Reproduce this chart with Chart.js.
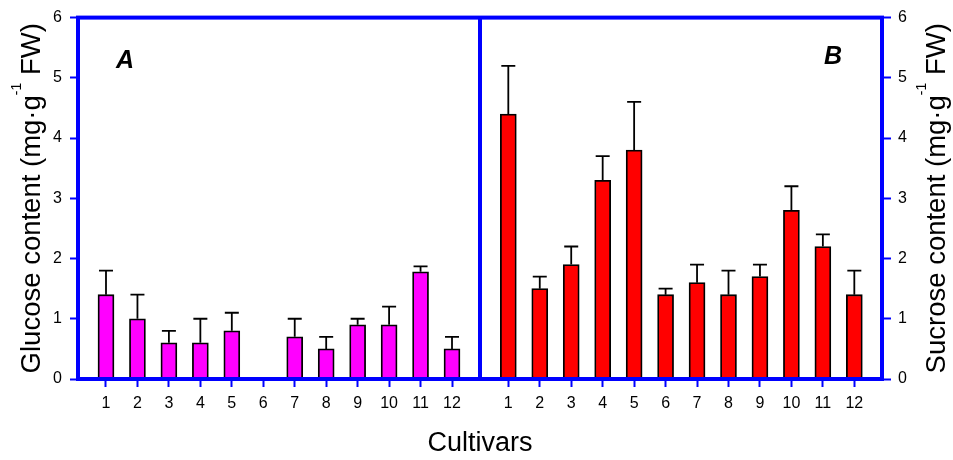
<!DOCTYPE html>
<html>
<head>
<meta charset="utf-8">
<script src="https://cdn.jsdelivr.net/npm/chart.js@4.4.0/dist/chart.umd.min.js"></script>
<style>
  html, body { margin: 0; padding: 0; background: #ffffff; }
  #wrap { position: relative; width: 953px; height: 460px; }
</style>
</head>
<body>
<div id="wrap"><canvas id="c" width="953" height="460"></canvas></div>
<script>
// ---- data ----
const cultivars = ['1','2','3','4','5','6','7','8','9','10','11','12'];
const glucose    = [1.40, 1.00, 0.60, 0.60, 0.80, 0.00, 0.70, 0.50, 0.90, 0.90, 1.78, 0.50];
const glucoseErr = [0.40, 0.40, 0.20, 0.40, 0.30, 0.00, 0.30, 0.20, 0.10, 0.30, 0.09, 0.20];
const sucrose    = [4.40, 1.50, 1.90, 3.30, 3.80, 1.40, 1.60, 1.40, 1.70, 2.80, 2.20, 1.40];
const sucroseErr = [0.80, 0.20, 0.30, 0.40, 0.80, 0.10, 0.30, 0.40, 0.20, 0.40, 0.20, 0.40];
const yTickValues = [0, 1, 2, 3, 4, 5, 6];
const panelLabels = ['A', 'B'];
const xTitle = 'Cultivars';
const glucoseTitle = ['Glucose content (mg\u00B7g', '-1', ' FW)'];
const sucroseTitle = ['Sucrose content (mg\u00B7g', '-1', ' FW)'];

// ---- layout constants (not data) ----
const FONT = '"Liberation Sans", Arial, Helvetica, sans-serif';
const BLUE = '#0000FF';
const panelBOffset = 12.79;   // x-offset of panel B categories on the shared axis
const dividerX = 12.89;       // position of the panel divider on the shared axis
const xMin = 0.11, xMax = 25.67;

const posA = cultivars.map((c, i) => i + 1);
const posB = cultivars.map((c, i) => i + 1 + panelBOffset);
const tickPositions = posA.concat(posB);
const tickLabels = cultivars.concat(cultivars);

const glucoseData = glucose.map((v, i) => ({ x: posA[i], y: v }));
const sucroseData = sucrose.map((v, i) => ({ x: posB[i], y: v }));

const decorPlugin = {
  id: 'decor',
  afterDatasetsDraw(chart) {
    const { ctx, chartArea: a, scales } = chart;
    ctx.save();
    // error bars (upper only, with cap)
    ctx.strokeStyle = '#000000';
    ctx.lineWidth = 1.8;
    chart.data.datasets.forEach((ds) => {
      const yS = scales[ds.yAxisID];
      ds.data.forEach((p, i) => {
        const e = ds.errors[i];
        if (!e) return;
        const x = scales.x.getPixelForValue(p.x);
        const y0 = yS.getPixelForValue(p.y);
        const y1 = yS.getPixelForValue(p.y + e);
        ctx.beginPath();
        ctx.moveTo(x, y0); ctx.lineTo(x, y1);
        ctx.moveTo(x - 7, y1); ctx.lineTo(x + 7, y1);
        ctx.stroke();
      });
    });
    // blue frame and divider
    ctx.strokeStyle = BLUE;
    ctx.lineWidth = 4;
    ctx.strokeRect(a.left, a.top, a.right - a.left, a.bottom - a.top);
    const xd = scales.x.getPixelForValue(dividerX);
    ctx.beginPath();
    ctx.moveTo(xd, a.top); ctx.lineTo(xd, a.bottom);
    ctx.stroke();
    // panel labels
    ctx.fillStyle = '#000000';
    ctx.font = 'italic bold 25px ' + FONT;
    ctx.textAlign = 'center';
    ctx.textBaseline = 'alphabetic';
    ctx.fillText(panelLabels[0], 125, 67.5);
    ctx.fillText(panelLabels[1], 833, 64);
    ctx.restore();
  },
  afterDraw(chart) {
    const { ctx, chartArea: a } = chart;
    const cy = (a.top + a.bottom) / 2;
    function drawTitle(parts, baseX) {
      ctx.save();
      ctx.fillStyle = '#000000';
      ctx.textBaseline = 'alphabetic';
      ctx.textAlign = 'left';
      const mainFont = '27.5px ' + FONT;
      const supFont = '14px ' + FONT;
      ctx.font = mainFont; const w0 = ctx.measureText(parts[0]).width;
      ctx.font = supFont;  const w1 = ctx.measureText(parts[1]).width;
      ctx.font = mainFont; const w2 = ctx.measureText(parts[2]).width;
      const total = w0 + w1 + w2;
      ctx.translate(baseX, cy);
      ctx.rotate(-Math.PI / 2);
      let x = -total / 2;
      ctx.font = mainFont; ctx.fillText(parts[0], x, 0); x += w0;
      ctx.font = supFont;  ctx.fillText(parts[1], x, -19); x += w1;
      ctx.font = mainFont; ctx.fillText(parts[2], x, 0);
      ctx.restore();
    }
    drawTitle(glucoseTitle, 40);
    drawTitle(sucroseTitle, 945);
  }
};

new Chart(document.getElementById('c'), {
  type: 'bar',
  data: {
    datasets: [
      {
        label: 'Glucose',
        data: glucoseData,
        errors: glucoseErr,
        yAxisID: 'y',
        backgroundColor: '#FF00FF',
        borderColor: '#000000',
        borderWidth: 1.8,
        borderSkipped: false,
        barThickness: 16,
        grouped: false
      },
      {
        label: 'Sucrose',
        data: sucroseData,
        errors: sucroseErr,
        yAxisID: 'y2',
        backgroundColor: '#FF0000',
        borderColor: '#000000',
        borderWidth: 1.8,
        borderSkipped: false,
        barThickness: 16,
        grouped: false
      }
    ]
  },
  options: {
    responsive: false,
    devicePixelRatio: 1,
    animation: false,
    layout: { padding: { top: 15, left: 0, right: 0, bottom: 0 } },
    plugins: { legend: { display: false }, tooltip: { enabled: false } },
    scales: {
      x: {
        type: 'linear',
        min: xMin,
        max: xMax,
        offset: false,
        afterBuildTicks: (s) => { s.ticks = tickPositions.map(v => ({ value: v })); },
        afterFit: (s) => { s.height = 81; },
        border: { display: false },
        grid: { offset: false, drawOnChartArea: false, drawTicks: true, tickLength: 8, tickColor: BLUE, tickWidth: 2 },
        ticks: {
          autoSkip: false, maxRotation: 0, minRotation: 0, padding: 7,
          color: '#000000', font: { family: FONT, size: 16 },
          callback: (v, i) => tickLabels[i]
        },
        title: {
          display: true, text: xTitle, color: '#000000',
          font: { family: FONT, size: 27 }, padding: { top: 0, bottom: 0 }
        }
      },
      y: {
        position: 'left',
        min: 0, max: 6,
        afterBuildTicks: (s) => { s.ticks = yTickValues.map(v => ({ value: v })); },
        afterFit: (s) => { s.width = 78; },
        border: { display: false },
        grid: { drawOnChartArea: false, drawTicks: true, tickLength: 8, tickColor: BLUE, tickWidth: 2 },
        ticks: { padding: 8, color: '#000000', font: { family: FONT, size: 16 } }
      },
      y2: {
        position: 'right',
        min: 0, max: 6,
        afterBuildTicks: (s) => { s.ticks = yTickValues.map(v => ({ value: v })); },
        afterFit: (s) => { s.width = 71; },
        border: { display: false },
        grid: { drawOnChartArea: false, drawTicks: true, tickLength: 9, tickColor: BLUE, tickWidth: 2 },
        ticks: { padding: 7, color: '#000000', font: { family: FONT, size: 16 } }
      }
    }
  },
  plugins: [decorPlugin]
});
</script>
</body>
</html>
